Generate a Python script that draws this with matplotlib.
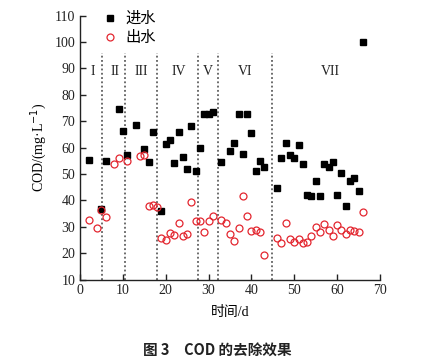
import matplotlib
matplotlib.use("Agg")
import matplotlib.pyplot as plt

# Influent COD (进水)
in_day = [2, 5, 6, 9, 10, 11, 13, 15, 16, 17, 19, 20, 21, 22, 23, 24, 25, 26, 27, 28,
          29, 30, 31, 33, 35, 36, 37, 38, 39, 40, 41, 42, 43, 46, 47, 48, 49, 50, 51, 52,
          53, 54, 55, 56, 57, 58, 59, 60, 61, 62, 63, 64, 65, 66]
in_cod = [55.3, 36.7, 55.0, 74.6, 66.4, 57.2, 68.5, 59.4, 54.7, 65.8, 36.1, 61.2, 62.8, 54.1,
          66.1, 56.5, 52.0, 68.2, 51.2, 60.0, 72.6, 72.6, 73.6, 54.7, 58.9, 61.9, 72.8, 57.5,
          72.6, 65.7, 51.2, 55.0, 52.8, 44.8, 56.2, 61.7, 57.2, 56.1, 60.8, 53.7, 42.1, 41.7,
          47.4, 41.7, 53.7, 52.8, 54.7, 42.1, 50.2, 38.0, 47.4, 48.3, 43.6, 100.0]

# Effluent COD (出水)
out_day = [2, 4, 5, 6, 8, 9, 11, 14, 15, 16, 17, 18, 19, 20, 21, 22, 23, 24, 25, 26,
           27, 28, 29, 30, 31, 33, 34, 35, 36, 37, 38, 39, 40, 41, 42, 43, 46, 47, 48, 49,
           50, 51, 52, 53, 54, 55, 56, 57, 58, 59, 60, 61, 62, 63, 64, 65, 66]
out_cod = [32.6, 29.7, 36.4, 33.6, 53.8, 56.2, 55.1, 57.0, 57.2, 37.7, 38.3, 37.4, 25.7, 25.0,
           27.6, 26.8, 31.5, 26.6, 27.3, 39.2, 32.2, 32.0, 28.0, 32.0, 33.9, 32.6, 31.4, 27.3,
           24.7, 29.5, 41.7, 34.1, 28.4, 28.8, 27.9, 19.1, 25.9, 23.8, 31.6, 25.3, 24.4, 25.4,
           24.0, 24.4, 26.6, 29.8, 27.9, 31.1, 28.8, 26.6, 30.7, 28.8, 27.3, 28.6, 28.4, 27.9,
           35.4]

# Stage boundaries and labels
stage_bounds = [5.2, 10.5, 17.9, 27.6, 32.3, 44.7]
stage_labels = ["I", "II", "III", "IV", "V", "VI", "VII"]
stage_label_x = [2.9, 8.2, 14.2, 23.1, 29.8, 38.5, 58.3]

serif = ["Liberation Serif", "Noto Sans CJK SC"]
cjk = ["Noto Sans CJK SC", "DejaVu Sans"]

fig = plt.figure(figsize=(4.34, 3.62), dpi=100)
ax = fig.add_axes([0.1843, 0.2279, 0.6913, 0.7287])

for b in stage_bounds:
    ax.plot([b, b], [10, 96], linestyle=(0, (1.2, 1.6)), color="#444444", lw=1.1, zorder=1)

for lx, lab in zip(stage_label_x, stage_labels):
    ax.text(lx, 88.8, lab, ha="center", va="center", fontsize=10,
            family=serif, color="#222222")

ax.plot(in_day, in_cod, linestyle="none", marker="s", markersize=4.8,
        color="black", label="进水", zorder=3)
ax.plot(out_day, out_cod, linestyle="none", marker="o", markersize=5.0,
        markerfacecolor="none", markeredgecolor="#e3262f", markeredgewidth=0.9,
        label="出水", zorder=3)

ax.set_xlim(0, 70)
ax.set_ylim(10, 110)
ax.set_xticks(range(0, 71, 10))
ax.set_yticks(range(10, 111, 10))
ax.spines["top"].set_visible(False)
ax.spines["right"].set_visible(False)
for s in ["left", "bottom"]:
    ax.spines[s].set_linewidth(1.0)
    ax.spines[s].set_color("#222222")
ax.tick_params(direction="in", length=4, width=1.0, labelsize=10, colors="#222222")
for t in ax.get_xticklabels() + ax.get_yticklabels():
    t.set_fontfamily(serif)

ax.set_ylabel("COD/(mg·L$^{-1}$)", fontsize=10, family=serif, labelpad=4)
ax.set_xlabel("时间/d", fontsize=10, family=serif, labelpad=6)

leg = ax.legend(loc="upper left", bbox_to_anchor=(0.05, 1.045), frameon=False,
                handletextpad=0.4, borderaxespad=0.0, labelspacing=0.15,
                prop={"family": cjk, "size": 11}, handlelength=1.2)

fig.text(0.5, 0.035, "图 3　COD 的去除效果", ha="center", va="center",
         fontsize=10.5, family=cjk, fontweight="bold", color="#222222")

fig.savefig("out.png", dpi=100)
